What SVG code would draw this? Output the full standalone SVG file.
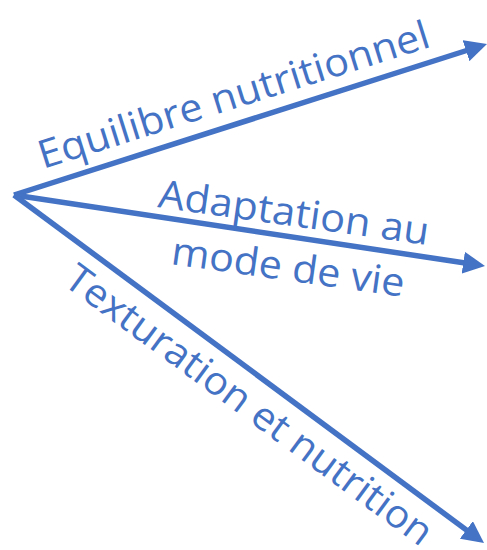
<svg xmlns="http://www.w3.org/2000/svg" width="487" height="550" viewBox="0 0 487 550">
<style>
.c{stroke:#4472C4;stroke-width:5.5;fill:none}
.t{font-family:"Open Sans","Noto Sans","Liberation Sans",sans-serif;font-size:39px;fill:#4472C4}
</style>
<defs>
<marker id="ah" viewBox="0 0 10 10" refX="7" refY="5" markerWidth="4" markerHeight="4" orient="auto" markerUnits="strokeWidth">
<path d="M0,0 L10,5 L0,10 z" fill="#4472C4"/>
</marker>
</defs>
<rect width="487" height="550" fill="#fff"/>
<g id="connectors">
<line class="c" x1="14" y1="195" x2="480.7" y2="46" marker-end="url(#ah)"/>
<line class="c" x1="14" y1="195" x2="478.5" y2="265" marker-end="url(#ah)"/>
<line class="c" x1="14" y1="195" x2="478.7" y2="539.1" marker-end="url(#ah)"/>
</g>
<g id="label1">
<text class="t" x="43" y="169" textLength="408" lengthAdjust="spacingAndGlyphs" transform="rotate(-17.5 43 169)">Equilibre nutritionnel</text>
</g>
<g id="label2">
<text class="t" x="157" y="207" textLength="273" lengthAdjust="spacingAndGlyphs" transform="rotate(8 157 207)">Adaptation au</text>
<text class="t" x="170" y="264" textLength="235" lengthAdjust="spacingAndGlyphs" transform="rotate(8 170 264)">mode de vie</text>
</g>
<g id="label3">
<text class="t" x="62" y="284" textLength="445" lengthAdjust="spacingAndGlyphs" transform="rotate(36.3 62 284)">Texturation et nutrition</text>
</g>
</svg>
